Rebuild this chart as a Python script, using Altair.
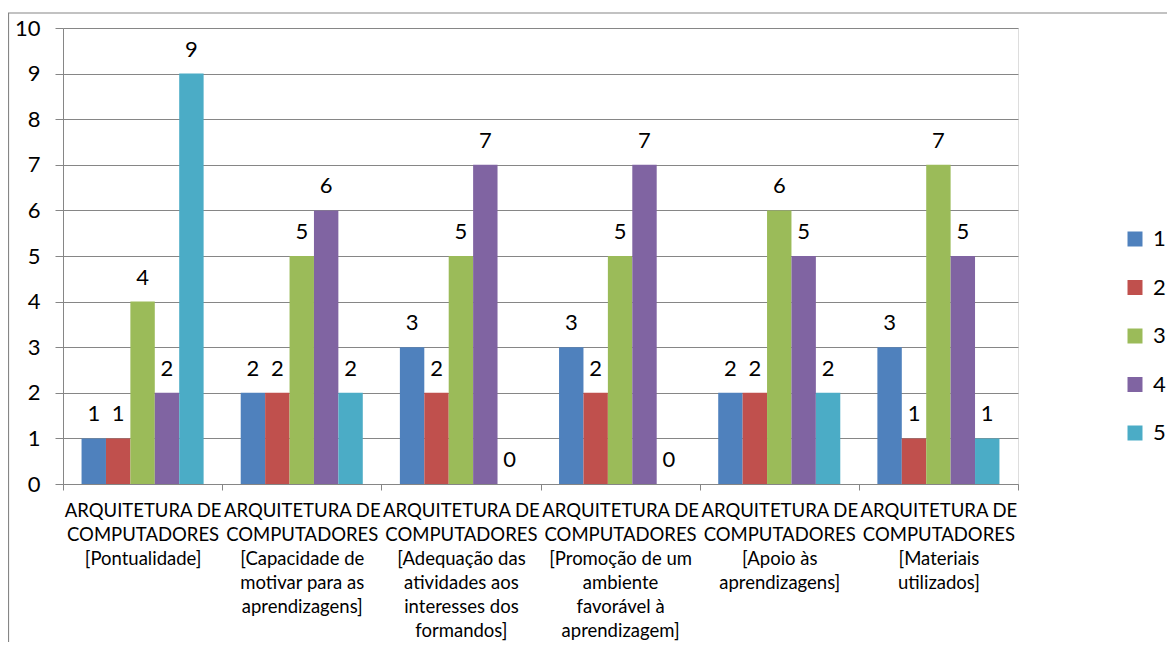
import altair as alt
import pandas as pd

categories = [
    "ARQUITETURA DE|COMPUTADORES|[Pontualidade]",
    "ARQUITETURA DE|COMPUTADORES|[Capacidade de|motivar para as|aprendizagens]",
    "ARQUITETURA DE|COMPUTADORES|[Adequação das|atividades aos|interesses dos|formandos]",
    "ARQUITETURA DE|COMPUTADORES|[Promoção de um|ambiente|favorável à|aprendizagem]",
    "ARQUITETURA DE|COMPUTADORES|[Apoio às|aprendizagens]",
    "ARQUITETURA DE|COMPUTADORES|[Materiais|utilizados]",
]
series = ["1", "2", "3", "4", "5"]
s1 = [1, 2, 3, 3, 2, 3]
s2 = [1, 2, 2, 2, 2, 1]
s3 = [4, 5, 5, 5, 6, 7]
s4 = [2, 6, 7, 7, 5, 5]
s5 = [9, 2, 0, 0, 2, 1]
colors = ["#4F81BD", "#C0504D", "#9BBB59", "#8064A2", "#4BACC6"]

rows = []
for s, vals in zip(series, [s1, s2, s3, s4, s5]):
    for c, v in zip(categories, vals):
        rows.append({"cat": c, "serie": s, "valor": v})
df = pd.DataFrame(rows)

FONT = "Lato"
GRAY = "#868686"
W, H = 955, 456

x_enc = alt.X(
    "cat:N",
    sort=categories,
    scale=alt.Scale(paddingInner=0, paddingOuter=0),
    axis=alt.Axis(
        title=None,
        labelAngle=0,
        labelExpr="split(datum.label, '|')",
        labelLineHeight=24,
        labelFont=FONT,
        labelFontSize=18.5,
        labelColor="#000000",
        labelPadding=11,
        labelLimit=0,
        tickBand="extent",
        tickSize=6,
        tickColor=GRAY,
        domainColor=GRAY,
        grid=False,
        zindex=1,
    ),
)
xoff = alt.XOffset(
    "serie:N",
    sort=series,
    scale=alt.Scale(paddingInner=0, paddingOuter=0.76),
)
y_enc = alt.Y(
    "valor:Q",
    scale=alt.Scale(domain=[0, 10], nice=False),
    axis=alt.Axis(
        title=None,
        values=list(range(0, 11)),
        labelFont=FONT,
        labelFontSize=22,
        labelColor="#000000",
        labelPadding=15,
        tickSize=8,
        tickColor=GRAY,
        domainColor=GRAY,
        gridColor=GRAY,
        gridWidth=1,
    ),
)

bars = alt.Chart(df).mark_bar().encode(
    x=x_enc,
    xOffset=xoff,
    y=y_enc,
    color=alt.Color(
        "serie:N",
        sort=series,
        scale=alt.Scale(domain=series, range=colors),
        legend=alt.Legend(
            title=None,
            orient="none",
            legendX=1061,
            legendY=200,
            symbolType="square",
            symbolSize=225,
            symbolStrokeWidth=0,
            labelFont=FONT,
            labelFontSize=22,
            labelColor="#000000",
            labelOffset=7,
            rowPadding=26.5,
            padding=0,
        ),
    ),
)

labels = alt.Chart(df).mark_text(
    font=FONT, fontSize=22, color="#000000", baseline="alphabetic", dy=-17
).encode(
    x=alt.X("cat:N", sort=categories),
    xOffset=alt.XOffset("serie:N", sort=series),
    y="valor:Q",
    text="valor:Q",
)

frame = pd.DataFrame({"k": [0]})
left_border = alt.Chart(frame).mark_rule(color=GRAY, strokeWidth=1.2).encode(
    x=alt.value(-54.5), y=alt.value(-15), y2=alt.value(H + 200)
)
top_border = alt.Chart(frame).mark_rule(color=GRAY, strokeWidth=1.2).encode(
    x=alt.value(-55), x2=alt.value(W + 200), y=alt.value(-15)
)

chart = alt.layer(bars, labels, left_border, top_border).properties(
    width=W,
    height=H,
    padding={"left": 55, "top": 20, "right": 149, "bottom": 158},
    autosize=alt.AutoSizeParams(type="none"),
).configure_view(stroke=None).configure(background="white")

chart.save("out.html", embed_options={"renderer": "svg", "actions": False})
